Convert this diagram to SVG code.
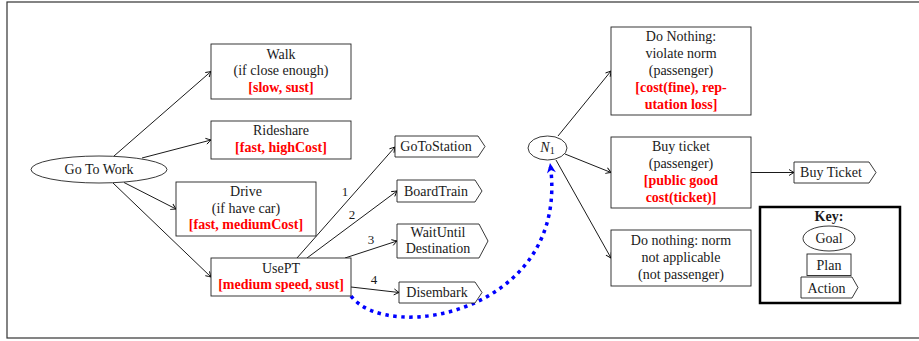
<svg xmlns="http://www.w3.org/2000/svg" width="919" height="341" viewBox="0 0 919 341">
<defs>
<style>
text{font-family:"Liberation Serif","Times New Roman","DejaVu Serif",serif;font-size:14px;fill:#1a1a1a;text-anchor:middle}
.r{fill:#ff0000;font-weight:bold}
.b{font-weight:bold}
.box{fill:#fff;stroke:#222;stroke-width:0.9}
.edge{fill:none;stroke:#000;stroke-width:0.9;marker-end:url(#arr)}
.lbl{font-size:13px}
</style>
<marker id="arr" viewBox="-6 -4 7 8" refX="0" refY="0" markerWidth="7" markerHeight="8" orient="auto" markerUnits="userSpaceOnUse">
<path d="M-5,-3 Q-1.5,-0.8 0,0 Q-1.5,0.8 -5,3" fill="none" stroke="#000" stroke-width="0.9"/>
</marker>
<marker id="barr" viewBox="-11 -6 12 12" refX="0" refY="0" markerWidth="12" markerHeight="12" orient="auto" markerUnits="userSpaceOnUse">
<path d="M-10,-4.5 L0,0 L-10,4.5 L-7,0 z" fill="#0000ff"/>
</marker>
</defs>
<rect x="7" y="2" width="920" height="336" fill="#fff" stroke="#333" stroke-width="1.2"/>

<g id="connectors">
<path class="edge" d="M114,156 L211,71.5"/>
<path class="edge" d="M142,158 L211,140"/>
<path class="edge" d="M124,182.5 L176,209"/>
<path class="edge" d="M113,183 L211,277"/>
<path class="edge" d="M297,258 L395,147"/>
<path class="edge" d="M307,258 L397,191"/>
<path class="edge" d="M345,258 L397,241"/>
<path class="edge" d="M351,287 L399,292.5"/>
<path class="edge" d="M558,136 L611,71"/>
<path class="edge" d="M565,154 L611,172.5"/>
<path class="edge" d="M556,160 L611,258"/>
<path class="edge" d="M751,172.5 L794,172.5"/>
<text class="lbl" x="345" y="196">1</text>
<text class="lbl" x="352" y="219">2</text>
<text class="lbl" x="371" y="244">3</text>
<text class="lbl" x="374" y="284">4</text>
<path d="M351,296 C388,345 572,312 550,163" fill="none" stroke="#0000ff" stroke-width="3.5" stroke-dasharray="3.5,4.5" marker-end="url(#barr)"/>
</g>

<g id="goToWork">
<ellipse cx="99" cy="169.5" rx="68" ry="13.5" class="box"/>
<text x="99" y="174">Go To Work</text>
</g>
<g id="walk">
<rect x="211" y="44" width="140" height="55" class="box"/>
<text x="281" y="58.5">Walk</text>
<text x="281" y="75.3">(if close enough)</text>
<text x="281" y="92.1" class="r">[slow, sust]</text>
</g>
<g id="rideshare">
<rect x="211" y="121" width="140" height="38" class="box"/>
<text x="281" y="135">Rideshare</text>
<text x="281" y="151.8" class="r">[fast, highCost]</text>
</g>
<g id="drive">
<rect x="176" y="182" width="140" height="54" class="box"/>
<text x="246" y="195.7">Drive</text>
<text x="246" y="212.5">(if have car)</text>
<text x="246" y="229.3" class="r">[fast, mediumCost]</text>
</g>
<g id="usePT">
<rect x="211" y="258" width="140" height="38" class="box"/>
<text x="281" y="272.5">UsePT</text>
<text x="281" y="289.3" class="r">[medium speed, sust]</text>
</g>

<g id="goToStation">
<path d="M395,136 H478 L485,146.5 L478,157 H395 Z" class="box"/>
<text x="436" y="151">GoToStation</text>
</g>
<g id="boardTrain">
<path d="M397,180 H475 L482,191 L475,202 H397 Z" class="box"/>
<text x="436" y="195.5">BoardTrain</text>
</g>
<g id="waitUntil">
<path d="M397,224 H479 L488,241 L479,258 H397 Z" class="box"/>
<text x="438" y="236.6">WaitUntil</text>
<text x="438" y="253.4">Destination</text>
</g>
<g id="disembark">
<path d="M399,282 H475 L482,292.5 L475,303 H399 Z" class="box"/>
<text x="437" y="297">Disembark</text>
</g>

<g id="n1">
<ellipse cx="547.5" cy="148" rx="19.5" ry="12" class="box"/>
<text x="547.5" y="152"><tspan font-style="italic">N</tspan><tspan font-size="10" dy="2">1</tspan></text>
</g>

<g id="doNothingViolate">
<rect x="611" y="27" width="140" height="88" class="box"/>
<text x="681" y="41.4">Do Nothing:</text>
<text x="681" y="58.2">violate norm</text>
<text x="681" y="75">(passenger)</text>
<text x="681" y="91.8" class="r">[cost(fine), rep-</text>
<text x="681" y="108.6" class="r">utation loss]</text>
</g>
<g id="buyTicketPlan">
<rect x="611" y="137" width="140" height="71" class="box"/>
<text x="681" y="151.3">Buy ticket</text>
<text x="681" y="168.1">(passenger)</text>
<text x="681" y="184.9" class="r">[public good</text>
<text x="681" y="201.7" class="r">cost(ticket)]</text>
</g>
<g id="doNothingNA">
<rect x="611" y="230" width="140" height="56" class="box"/>
<text x="681" y="245.2">Do nothing: norm</text>
<text x="681" y="262">not applicable</text>
<text x="681" y="278.8">(not passenger)</text>
</g>
<g id="buyTicketAction">
<path d="M794,162 H869 L876,172.5 L869,183 H794 Z" class="box"/>
<text x="831" y="177">Buy Ticket</text>
</g>

<g id="key">
<rect x="760" y="207" width="140" height="96" fill="#fff" stroke="#000" stroke-width="2.5"/>
<text x="829" y="221" class="b">Key:</text>
<ellipse cx="829" cy="238.5" rx="26" ry="12.5" class="box"/>
<text x="829" y="243">Goal</text>
<rect x="807" y="254" width="44" height="21.5" class="box"/>
<text x="829" y="269.5">Plan</text>
<path d="M801,277 H852 L858,287.5 L852,298 H801 Z" class="box"/>
<text x="826.5" y="292.5">Action</text>
</g>
</svg>
